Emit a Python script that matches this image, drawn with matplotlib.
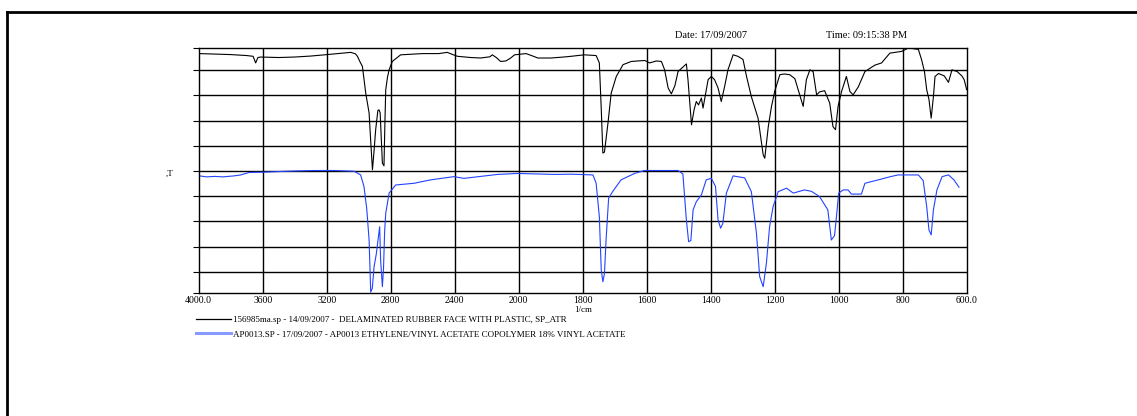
# IR spectra overlay: sample vs EVA reference

import numpy as np
import matplotlib.pyplot as plt
from matplotlib.lines import Line2D

# Sample spectrum (black) - wavenumber (1/cm) and signal (% of axis height)
wn_sample = [3995, 3900, 3800, 3700, 3660, 3644, 3630, 3612, 3500, 3400, 3300, 3196,
             3100, 3050, 3020, 3008, 2990, 2977, 2956, 2935, 2925, 2914, 2904, 2894,
             2880, 2873, 2866, 2858, 2852, 2842, 2836, 2831, 2820, 2810, 2790, 2738,
             2600, 2500, 2446, 2420, 2383, 2300, 2238, 2180, 2165, 2140, 2113, 2080,
             2050, 2026, 1977, 1960, 1940, 1900, 1860, 1836, 1795, 1758, 1748, 1742,
             1737, 1732, 1721, 1711, 1695, 1674, 1648, 1606, 1591, 1570, 1554, 1544,
             1533, 1523, 1512, 1502, 1476, 1471, 1460, 1452, 1445, 1438, 1429, 1424,
             1408, 1398, 1388, 1377, 1367, 1356, 1346, 1330, 1315, 1299, 1288, 1273,
             1252, 1236, 1231, 1220, 1210, 1200, 1184, 1170, 1153, 1137, 1122, 1111,
             1101, 1090, 1080, 1069, 1060, 1044, 1028, 1018, 1010, 1002, 991, 976,
             965, 955, 939, 918, 887, 866, 840, 803, 782, 760, 751, 741,
             732, 725, 718, 711, 704, 699, 688, 670, 657, 646, 630, 615,
             608, 600]
sig_sample = [97.6, 97.4, 97.2, 96.8, 96.5, 93.8, 96.0, 96.2, 96.0, 96.2, 96.6, 97.2,
              97.8, 98.1, 97.5, 96.5, 94.0, 92.4, 81.5, 73.4, 62.0, 50.3, 58.0, 66.6,
              74.5, 74.7, 73.5, 62.0, 53.0, 51.9, 70.0, 82.9, 88.0, 91.0, 94.4, 97.1,
              97.6, 97.6, 98.1, 97.4, 96.5, 96.0, 95.8, 96.3, 97.1, 96.0, 94.4, 94.6,
              95.8, 97.1, 97.6, 96.8, 95.8, 95.8, 96.2, 96.5, 97.1, 96.8, 93.8, 75.0,
              57.1, 57.5, 69.3, 81.5, 88.3, 93.1, 94.4, 94.8, 93.8, 94.6, 94.4, 91.0,
              83.6, 81.2, 84.5, 90.3, 93.4, 87.0, 68.6, 74.7, 78.1, 76.7, 79.5, 75.4,
              87.0, 88.3, 87.0, 83.6, 78.1, 84.5, 91.0, 97.1, 96.5, 95.2, 88.3, 80.1,
              71.3, 56.4, 55.0, 67.9, 76.1, 82.2, 89.0, 89.3, 89.0, 87.4, 80.8, 76.1,
              87.0, 91.0, 90.3, 80.8, 82.0, 82.5, 77.4, 67.9, 66.6, 76.1, 82.2, 88.3,
              82.2, 80.8, 84.0, 90.3, 92.9, 93.8, 97.8, 98.5, 99.9, 99.5, 99.3, 95.1,
              90.3, 82.9, 79.0, 71.3, 80.1, 88.3, 89.5, 88.5, 85.9, 91.0, 90.3, 88.5,
              87.0, 82.9]

# Reference spectrum (blue)
wn_ref = [3995, 3950, 3900, 3850, 3780, 3737, 3685, 3600, 3487, 3400, 3279, 3150,
          3029, 2988, 2967, 2950, 2935, 2925, 2915, 2904, 2890, 2883, 2869, 2863,
          2852, 2845, 2838, 2831, 2810, 2769, 2654, 2550, 2404, 2342, 2250, 2133,
          2008, 1888, 1836, 1768, 1758, 1748, 1742, 1737, 1732, 1727, 1719, 1706,
          1680, 1638, 1607, 1502, 1487, 1476, 1469, 1462, 1455, 1445, 1429, 1414,
          1398, 1385, 1377, 1369, 1362, 1351, 1330, 1294, 1273, 1257, 1247, 1236,
          1226, 1216, 1205, 1189, 1163, 1142, 1107, 1085, 1060, 1034, 1023, 1013,
          1007, 1000, 986, 971, 960, 929, 918, 876, 835, 814, 751, 736,
          725, 718, 711, 704, 693, 677, 657, 640, 624]
sig_ref = [47.8, 47.4, 47.6, 47.4, 47.8, 48.2, 49.2, 49.3, 49.6, 49.8, 50.0, 50.0,
           49.7, 48.2, 43.5, 34.6, 21.7, 0.5, 2.0, 10.8, 16.0, 19.7, 27.1, 13.5,
           2.7, 10.0, 25.0, 32.6, 40.8, 44.1, 44.8, 46.2, 47.5, 46.8, 47.5, 48.4,
           48.8, 48.4, 48.5, 48.2, 44.8, 31.2, 9.5, 4.7, 8.0, 21.7, 38.7, 41.5,
           46.2, 48.8, 50.0, 50.0, 48.6, 29.9, 21.0, 21.5, 34.0, 37.3, 40.1, 46.2,
           46.8, 43.5, 29.9, 26.5, 28.5, 40.8, 47.8, 47.0, 41.4, 24.5, 6.8, 2.7,
           12.2, 27.1, 35.3, 41.4, 42.8, 40.8, 42.1, 41.5, 39.4, 34.0, 21.7, 23.5,
           31.2, 40.8, 42.1, 42.1, 40.4, 40.4, 44.8, 46.2, 47.6, 48.2, 48.2, 45.9,
           35.3, 25.8, 23.8, 34.0, 42.1, 47.5, 48.2, 46.2, 43.2]

x_ticks = [4000, 3600, 3200, 2800, 2400, 2000, 1800, 1600, 1400, 1200, 1000, 800, 600]
x_labels = ["4000.0", "3600", "3200", "2800", "2400", "2000", "1800", "1600",
            "1400", "1200", "1000", "800", "600.0"]

label_sample = "156985ma.sp - 14/09/2007 -  DELAMINATED RUBBER FACE WITH PLASTIC, SP_ATR"
label_ref = "AP0013.SP - 17/09/2007 - AP0013 ETHYLENE/VINYL ACETATE COPOLYMER 18% VINYL ACETATE"


# x axis is compressed by half above 2000 1/cm
def fwd(x):
    x = np.asarray(x, dtype=float)
    return np.where(x > 2000, 2000 + (x - 2000) / 2, x)


def inv(u):
    u = np.asarray(u, dtype=float)
    return np.where(u > 2000, 2000 + (u - 2000) * 2, u)


plt.rcParams['font.family'] = ['Liberation Serif', 'DejaVu Serif']

W, H = 1137, 416
fig = plt.figure(figsize=(W / 100, H / 100), dpi=100)
ax = fig.add_axes([198.7 / W, 1 - 293.3 / H, 768 / W, 245.6 / H])

ax.plot(wn_sample, sig_sample, color="black", lw=0.8)
ax.plot(wn_ref, sig_ref, color="#2343ff", lw=0.8)

ax.set_xscale('function', functions=(fwd, inv))
ax.set_xlim(4000, 600)
ax.set_ylim(0, 100)
ax.set_xticks(x_ticks)
ax.set_xticklabels(x_labels, fontsize=7)
ax.tick_params(axis='x', length=0, pad=2)

grid_y = np.linspace(8.7, 90.9, 9)
ax.set_yticks(np.concatenate(([0], grid_y, [100])))
ax.set_yticklabels([])
ax.tick_params(axis='y', length=4, width=0.8, color="black")
for gy in grid_y:
    ax.axhline(gy, color="black", lw=1.0, zorder=0)
for gx in x_ticks[1:-1]:
    ax.axvline(gx, color="black", lw=1.0, zorder=0)
for s in ax.spines.values():
    s.set_linewidth(1.0)

ax.set_xlabel("1/cm", fontsize=6.5, labelpad=1)
fig.text(166 / W, 1 - 174 / H, ",T", fontsize=6.5, va="center")

fig.text(711 / W, 1 - 36 / H, "Date: 17/09/2007", fontsize=7.5, ha="center", va="center")
fig.text(866 / W, 1 - 36 / H, "Time: 09:15:38 PM", fontsize=7.5, ha="center", va="center")

handles = [Line2D([], [], color="black", lw=0.9),
           Line2D([], [], color="#8899ff", lw=2.2)]
fig.legend(handles, [label_sample, label_ref], loc="upper left",
           bbox_to_anchor=(195.7 / W, 1 - 316 / H), frameon=False, fontsize=6.5,
           handlelength=3.9, handletextpad=0.25, labelspacing=0.65,
           borderpad=0, borderaxespad=0)

# page border (runs off the right and bottom)
fig.add_artist(Line2D([7 / W, 1], [1 - 12 / H, 1 - 12 / H], color="black", lw=2))
fig.add_artist(Line2D([7 / W, 7 / W], [0, 1 - 12 / H], color="black", lw=2))

fig.savefig("out.png", dpi=100)
